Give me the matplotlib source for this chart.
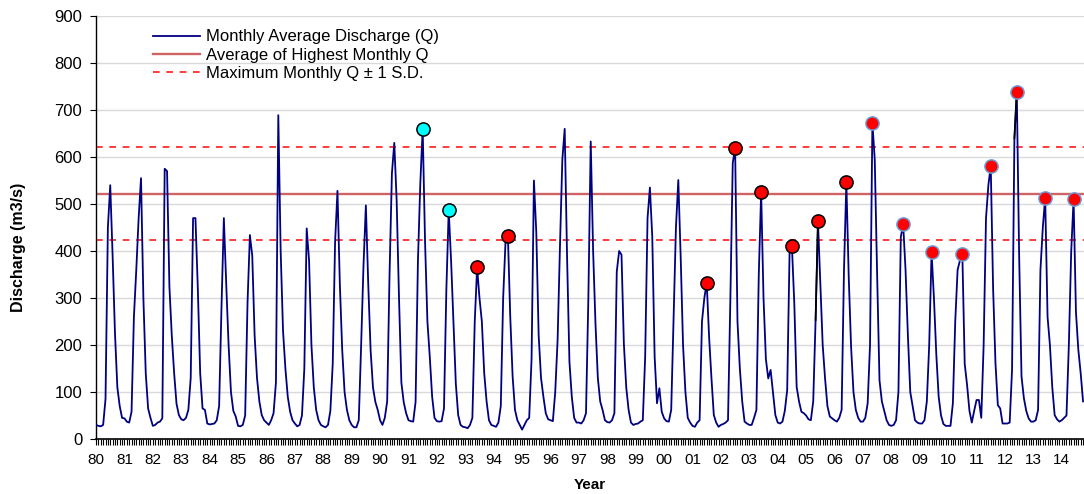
import numpy as np
import matplotlib
matplotlib.use("Agg")
import matplotlib.pyplot as plt
from matplotlib.ticker import MultipleLocator

plt.rcParams["font.family"] = ["Liberation Sans", "DejaVu Sans"]

# Monthly average discharge (m3/s), Jan 1980 onwards, one row per year
discharge = [
    30, 28, 27, 30, 85, 450, 540, 390, 225, 110, 70, 45,        # 1980
    44, 37, 35, 58, 260, 360, 470, 555, 300, 140, 65, 45,       # 1981
    28, 30, 35, 37, 44, 575, 570, 324, 220, 140, 75, 51,        # 1982
    42, 40, 45, 62, 130, 470, 470, 320, 140, 65, 62, 33,        # 1983
    31, 32, 33, 40, 70, 280, 470, 330, 200, 100, 60, 48,        # 1984
    28, 27, 30, 50, 290, 434, 390, 220, 130, 80, 51, 40,        # 1985
    35, 30, 40, 55, 120, 689, 400, 230, 150, 90, 58, 40,        # 1986
    33, 27, 30, 50, 150, 448, 380, 200, 110, 62, 40, 30,        # 1987
    27, 25, 30, 60, 160, 420, 528, 330, 190, 100, 62, 40,       # 1988
    30, 25, 25, 40, 200, 370, 497, 330, 189, 110, 79, 62,       # 1989
    40, 30, 45, 80, 350, 565, 630, 508, 300, 120, 78, 55,       # 1990
    40, 38, 37, 79, 380, 544, 660, 420, 250, 175, 90, 45,       # 1991
    38, 37, 38, 65, 317, 487, 380, 250, 118, 51, 30, 26,        # 1992
    25, 23, 30, 45, 250, 365, 300, 250, 140, 80, 40, 30,        # 1993
    28, 26, 35, 70, 300, 420, 433, 260, 133, 62, 40, 30,        # 1994
    20, 30, 40, 45, 170, 550, 440, 220, 130, 90, 55, 42,        # 1995
    40, 38, 100, 210, 409, 594, 660, 388, 165, 90, 45, 35,      # 1996
    35, 33, 40, 55, 300, 633, 402, 246, 130, 80, 62, 40,        # 1997
    36, 35, 40, 55, 356, 400, 392, 203, 110, 62, 35, 30,        # 1998
    32, 33, 37, 40, 175, 470, 535, 430, 175, 76, 108, 58,       # 1999
    44, 38, 37, 62, 260, 450, 551, 388, 200, 100, 45, 35,       # 2000
    28, 26, 35, 40, 250, 300, 333, 218, 130, 51, 35, 26,        # 2001
    30, 32, 35, 40, 300, 587, 620, 250, 150, 80, 37, 33,        # 2002
    30, 30, 45, 62, 350, 525, 300, 170, 129, 147, 100, 51,      # 2003
    35, 33, 37, 60, 104, 395, 410, 289, 111, 80, 58, 55,        # 2004
    50, 42, 40, 80, 253, 463, 330, 200, 129, 70, 48, 44,        # 2005
    40, 37, 45, 62, 360, 546, 345, 196, 100, 62, 45, 37,        # 2006
    37, 45, 76, 200, 673, 594, 350, 125, 80, 60, 40, 30,        # 2007
    28, 30, 40, 100, 430, 457, 360, 220, 100, 70, 40, 35,       # 2008
    33, 33, 40, 80, 200, 397, 300, 180, 90, 50, 32, 28,         # 2009
    28, 28, 76, 250, 360, 380, 394, 160, 115, 60, 35, 60,       # 2010
    83, 83, 45, 200, 470, 540, 581, 320, 161, 72, 65, 33,       # 2011
    33, 33, 35, 147, 640, 739, 390, 133, 87, 60, 44, 37,        # 2012
    37, 40, 62, 360, 450, 513, 260, 200, 110, 51, 42, 37,       # 2013
    40, 45, 50, 200, 400, 510, 270, 190, 140, 80,               # 2014
]

start_year = 1980
year_labels = [f"{y % 100:02d}" for y in range(1980, 2015)]

# Annual peaks that get a marker, with their face / edge colours
cyan_years = [1991, 1992]
red_black_years = [1993, 1994, 2001, 2002, 2003, 2004, 2005, 2006]
red_blue_years = [2007, 2008, 2009, 2010, 2011, 2012, 2013, 2014]
# Peaks whose rising limb is drawn in black
black_rise_years = [2005, 2012]

mean_peak_q = 522
sd_peak_q = 99

q = np.array(discharge, dtype=float)
months = np.arange(len(q))


def peak_index(year):
    i0 = (year - start_year) * 12
    seg = q[i0:i0 + 12]
    return i0 + int(np.argmax(seg))


fig = plt.figure(figsize=(10.84, 4.94), dpi=100)
ax = fig.add_axes([0.0886, 0.1113, 0.9114, 0.8563])

ax.yaxis.grid(True, color="#d9d9d9", linewidth=1.0, zorder=0)
ax.set_axisbelow(True)

ax.plot(months, q, color="#000080", linewidth=1.3, zorder=3,
        label="Monthly Average Discharge (Q)")
ax.axhline(mean_peak_q, color="#d06464", linewidth=1.7, zorder=2,
           label="Average of Highest Monthly Q")
ax.axhline(mean_peak_q + sd_peak_q, color="#ff1a1a", linewidth=1.2,
           linestyle=(0, (4, 4)), zorder=2,
           label="Maximum Monthly Q ± 1 S.D.")
ax.axhline(mean_peak_q - sd_peak_q, color="#ff1a1a", linewidth=1.2,
           linestyle=(0, (4, 4)), zorder=2)

for yr in black_rise_years:
    i = peak_index(yr)
    ax.plot(months[i - 1:i + 1], q[i - 1:i + 1], color="black",
            linewidth=1.2, zorder=4)

for years, face, edge in [
    (cyan_years, "#00ffff", "black"),
    (red_black_years, "#ff0000", "black"),
    (red_blue_years, "#ff0000", "#6d9bd6"),
]:
    idx = [peak_index(y) for y in years]
    ax.plot(months[idx], q[idx], linestyle="none", marker="o",
            markersize=9.5, markerfacecolor=face, markeredgecolor=edge,
            markeredgewidth=1.1, zorder=5)

ax.set_xlim(0, len(q) - 0.6)
ax.set_ylim(0, 900)
ax.yaxis.set_major_locator(MultipleLocator(100))
ax.set_xticks(np.arange(0, 12 * len(year_labels), 12))
ax.set_xticklabels(year_labels)
ax.xaxis.set_minor_locator(MultipleLocator(1))

ax.tick_params(axis="x", which="both", direction="out", length=4,
               width=0.8, labelsize=11, pad=6)
ax.tick_params(axis="y", direction="out", length=4, width=0.8,
               labelsize=12, pad=6)

for side in ["top", "right"]:
    ax.spines[side].set_visible(False)
ax.spines["left"].set_linewidth(1.0)
ax.spines["bottom"].set_linewidth(1.2)

ax.set_xlabel("Year", fontsize=11, fontweight="bold")
ax.xaxis.set_label_coords(0.5, -0.092)
ax.set_ylabel("Discharge (m3/s)", fontsize=11.5, fontweight="bold")
ax.yaxis.set_label_coords(-0.071, 0.454)

ax.legend(loc="upper left", bbox_to_anchor=(0.051, 0.984), frameon=False,
          fontsize=12, handlelength=2.8, handletextpad=0.36,
          labelspacing=0.2, borderaxespad=0)

fig.savefig("out.png", dpi=100)
